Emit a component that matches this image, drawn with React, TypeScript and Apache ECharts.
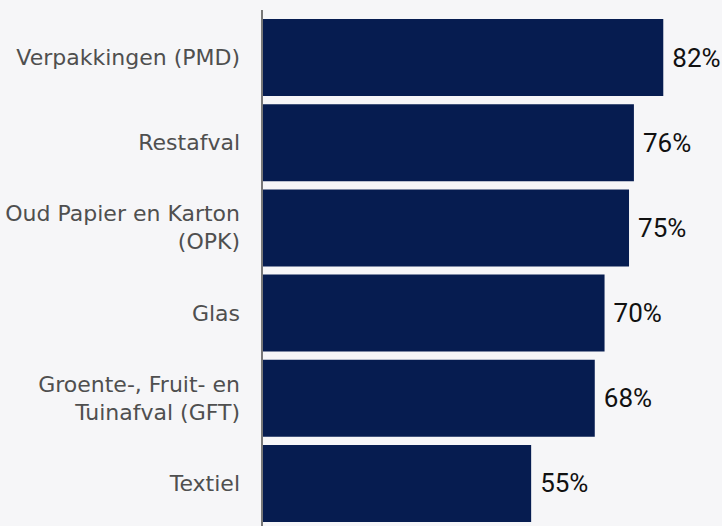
import React, { useEffect, useRef } from "react";
import * as echarts from "echarts";

const categories = [
  "Verpakkingen (PMD)",
  "Restafval",
  "Oud Papier en Karton\n(OPK)",
  "Glas",
  "Groente-, Fruit- en\nTuinafval (GFT)",
  "Textiel",
];
const values = [82, 76, 75, 70, 68, 55];

export default function App() {
  const ref = useRef<HTMLDivElement>(null);
  useEffect(() => {
    if (!ref.current) return;
    const chart = echarts.init(ref.current, null, { renderer: "svg" });
    chart.setOption({
      animation: false,
      backgroundColor: "#f6f6f8",
      grid: { left: 262, top: 15, right: 0, bottom: 0, containLabel: false },
      xAxis: {
        type: "value",
        min: 0,
        max: 94,
        show: false,
      },
      yAxis: {
        type: "category",
        data: categories,
        inverse: true,
        axisLine: { show: false },
        axisTick: { show: false },
        axisLabel: {
          margin: 22,
          color: "#4f4f4f",
          fontFamily: "DejaVu Sans",
          fontSize: 22,
          lineHeight: 28,
          align: "right",
        },
      },
      graphic: [
        {
          type: "line",
          shape: { x1: 262, y1: 10, x2: 262, y2: 526 },
          style: { stroke: "#777777", lineWidth: 2 },
          z: 10,
        },
      ],
      series: [
        {
          type: "bar",
          data: values,
          barCategoryGap: "9.6%",
          itemStyle: { color: "#061c50" },
          label: {
            show: true,
            position: "right",
            distance: 9,
            formatter: "{c}%",
            color: "#111111",
            fontFamily: "Roboto",
            fontSize: 26,
          },
        },
      ],
    });
    return () => chart.dispose();
  }, []);
  return (
    <div
      ref={ref}
      style={{ position: "fixed", left: 0, top: 0, width: 722, height: 526 }}
    />
  );
}
